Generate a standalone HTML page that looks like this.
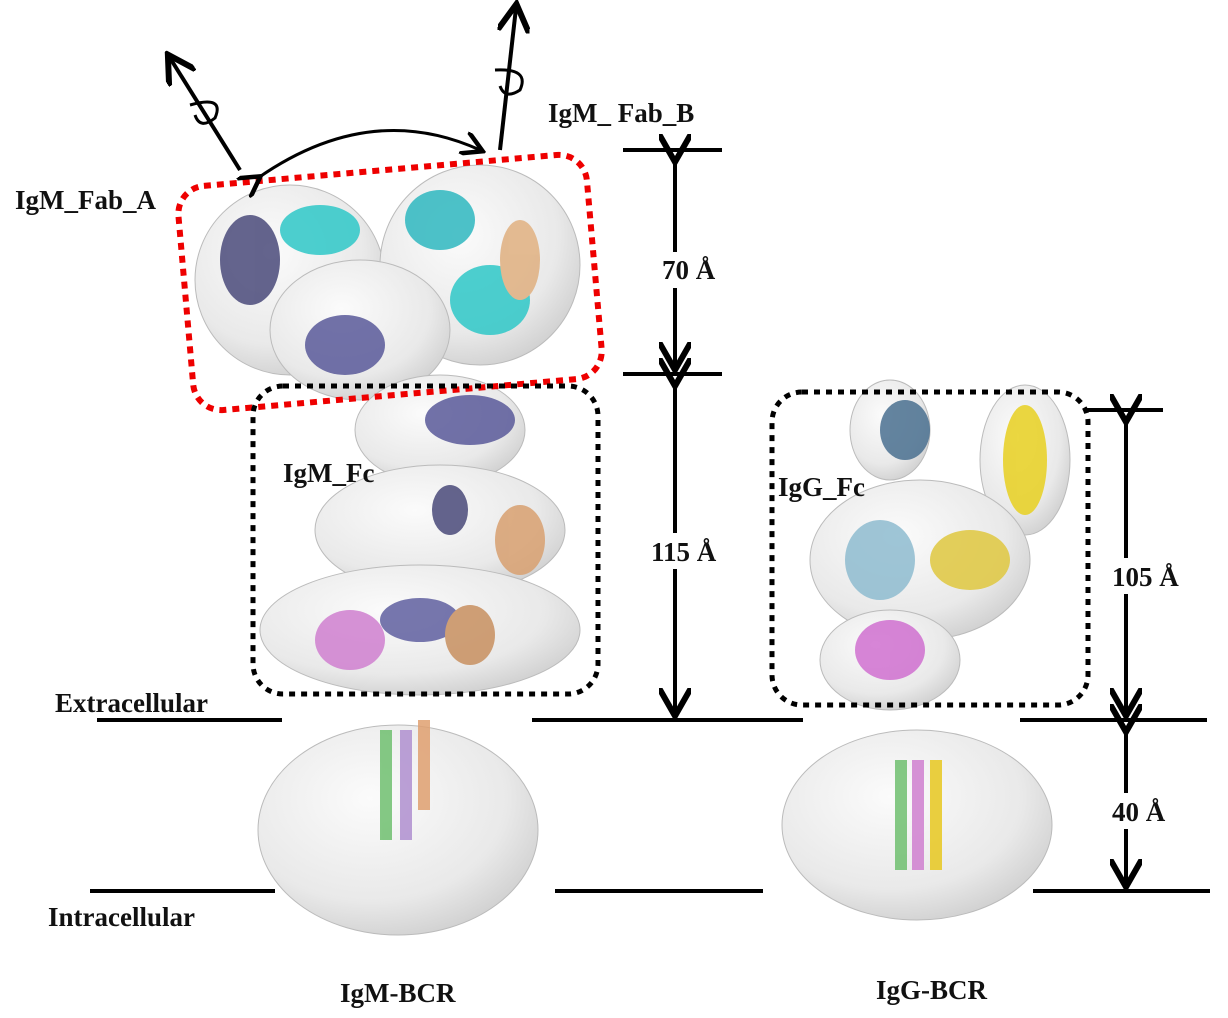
<!DOCTYPE html>
<html><head><meta charset="utf-8"><style>
html,body{margin:0;padding:0;background:#fff;}
svg{display:block;}
text{font-family:"Liberation Serif",serif;font-weight:bold;font-size:27px;fill:#111;}
</style></head><body>
<svg width="1228" height="1018" viewBox="0 0 1228 1018" xmlns="http://www.w3.org/2000/svg">
<defs>
<marker id="ah" markerWidth="8" markerHeight="8" refX="6" refY="4" orient="auto" markerUnits="strokeWidth">
<path d="M0,0 L7,4 L0,8" fill="none" stroke="#000" stroke-width="1.5"/></marker>
<radialGradient id="g" cx="40%" cy="35%" r="70%"><stop offset="0" stop-color="#fbfbfb"/><stop offset="0.7" stop-color="#e9e9e9"/><stop offset="1" stop-color="#cfcfcf"/></radialGradient>
</defs>
<g fill="url(#g)" stroke="#bbb" stroke-width="1">
<ellipse cx="398" cy="830" rx="140" ry="105"/>
<ellipse cx="917" cy="825" rx="135" ry="95"/>
<ellipse cx="290" cy="280" rx="95" ry="95"/>
<ellipse cx="480" cy="265" rx="100" ry="100"/>
<ellipse cx="360" cy="330" rx="90" ry="70"/>
<ellipse cx="440" cy="430" rx="85" ry="55"/>
<ellipse cx="440" cy="530" rx="125" ry="65"/>
<ellipse cx="420" cy="630" rx="160" ry="65"/>
<ellipse cx="890" cy="430" rx="40" ry="50"/>
<ellipse cx="1025" cy="460" rx="45" ry="75"/>
<ellipse cx="920" cy="560" rx="110" ry="80"/>
<ellipse cx="890" cy="660" rx="70" ry="50"/>
</g>
<g opacity="0.85">
<ellipse cx="250" cy="260" rx="30" ry="45" fill="#4a4a7a"/>
<ellipse cx="320" cy="230" rx="40" ry="25" fill="#2fc8c8"/>
<ellipse cx="345" cy="345" rx="40" ry="30" fill="#5a5a9a"/>
<ellipse cx="440" cy="220" rx="35" ry="30" fill="#2fb8c0"/>
<ellipse cx="490" cy="300" rx="40" ry="35" fill="#2fc8c8"/>
<ellipse cx="520" cy="260" rx="20" ry="40" fill="#e0b080"/>
<ellipse cx="470" cy="420" rx="45" ry="25" fill="#5a5a9a"/>
<ellipse cx="520" cy="540" rx="25" ry="35" fill="#d8a070"/>
<ellipse cx="450" cy="510" rx="18" ry="25" fill="#4a4a7a"/>
<ellipse cx="350" cy="640" rx="35" ry="30" fill="#d080d0"/>
<ellipse cx="420" cy="620" rx="40" ry="22" fill="#6060a0"/>
<ellipse cx="470" cy="635" rx="25" ry="30" fill="#c89060"/>
<rect x="380" y="730" width="12" height="110" fill="#70c070"/>
<rect x="400" y="730" width="12" height="110" fill="#b090d0"/>
<rect x="418" y="720" width="12" height="90" fill="#e0a070"/>
<ellipse cx="905" cy="430" rx="25" ry="30" fill="#4a7090"/>
<ellipse cx="1025" cy="460" rx="22" ry="55" fill="#e8d020"/>
<ellipse cx="880" cy="560" rx="35" ry="40" fill="#8fbcd0"/>
<ellipse cx="970" cy="560" rx="40" ry="30" fill="#e0c840"/>
<ellipse cx="890" cy="650" rx="35" ry="30" fill="#d070d0"/>
<rect x="895" y="760" width="12" height="110" fill="#70c070"/>
<rect x="912" y="760" width="12" height="110" fill="#d080d0"/>
<rect x="930" y="760" width="12" height="110" fill="#e8c820"/>
</g>
<rect x="185" y="170" width="410" height="225" rx="28" fill="none" stroke="#e00" stroke-width="6" stroke-dasharray="7,6" transform="rotate(-5 390 282)"/>
<rect x="253" y="386" width="345" height="308" rx="30" fill="none" stroke="#000" stroke-width="5" stroke-dasharray="6,6"/>
<rect x="772" y="392" width="316" height="313" rx="30" fill="none" stroke="#000" stroke-width="5" stroke-dasharray="6,6"/>
<g stroke="#000" stroke-width="4">
<line x1="97" y1="720" x2="282" y2="720"/><line x1="532" y1="720" x2="803" y2="720"/><line x1="1020" y1="720" x2="1207" y2="720"/>
<line x1="90" y1="891" x2="275" y2="891"/><line x1="555" y1="891" x2="763" y2="891"/><line x1="1033" y1="891" x2="1210" y2="891"/>
<line x1="623" y1="150" x2="722" y2="150"/><line x1="623" y1="374" x2="722" y2="374"/>
<line x1="1087" y1="410" x2="1163" y2="410"/>
</g>
<g stroke="#000" stroke-width="4" fill="none" marker-start="url(#ah)" marker-end="url(#ah)">
<line x1="675" y1="158" x2="675" y2="366"/>
<line x1="675" y1="382" x2="675" y2="712"/>
<line x1="1126" y1="418" x2="1126" y2="712"/>
<line x1="1126" y1="728" x2="1126" y2="883"/>
</g>
<rect x="655" y="252" width="70" height="36" fill="#fff"/>
<rect x="645" y="533" width="75" height="36" fill="#fff"/>
<rect x="1105" y="558" width="80" height="36" fill="#fff"/>
<rect x="1105" y="793" width="65" height="36" fill="#fff"/>
<g stroke="#000" stroke-width="4" fill="none">
<line x1="240" y1="170" x2="170" y2="58" marker-end="url(#ah)"/>
<line x1="500" y1="150" x2="516" y2="8" marker-end="url(#ah)"/>
<path d="M258 178 Q370 100 480 150" marker-start="url(#ah)" marker-end="url(#ah)" stroke-width="3"/>
<path d="M190 105 Q225 95 215 118 Q200 130 195 115" stroke-width="3"/>
<path d="M495 70 Q530 68 520 90 Q505 100 500 86" stroke-width="3"/>
</g>
<text x="15" y="209">IgM_Fab_A</text>
<text x="548" y="122">IgM_ Fab_B</text>
<text x="283" y="482">IgM_Fc</text>
<text x="778" y="496">IgG_Fc</text>
<text x="662" y="279">70 Å</text>
<text x="651" y="561">115 Å</text>
<text x="1112" y="586">105 Å</text>
<text x="1112" y="821">40 Å</text>
<text x="55" y="712">Extracellular</text>
<text x="48" y="926">Intracellular</text>
<text x="340" y="1002">IgM-BCR</text>
<text x="876" y="999">IgG-BCR</text>
</svg>
</body></html>
